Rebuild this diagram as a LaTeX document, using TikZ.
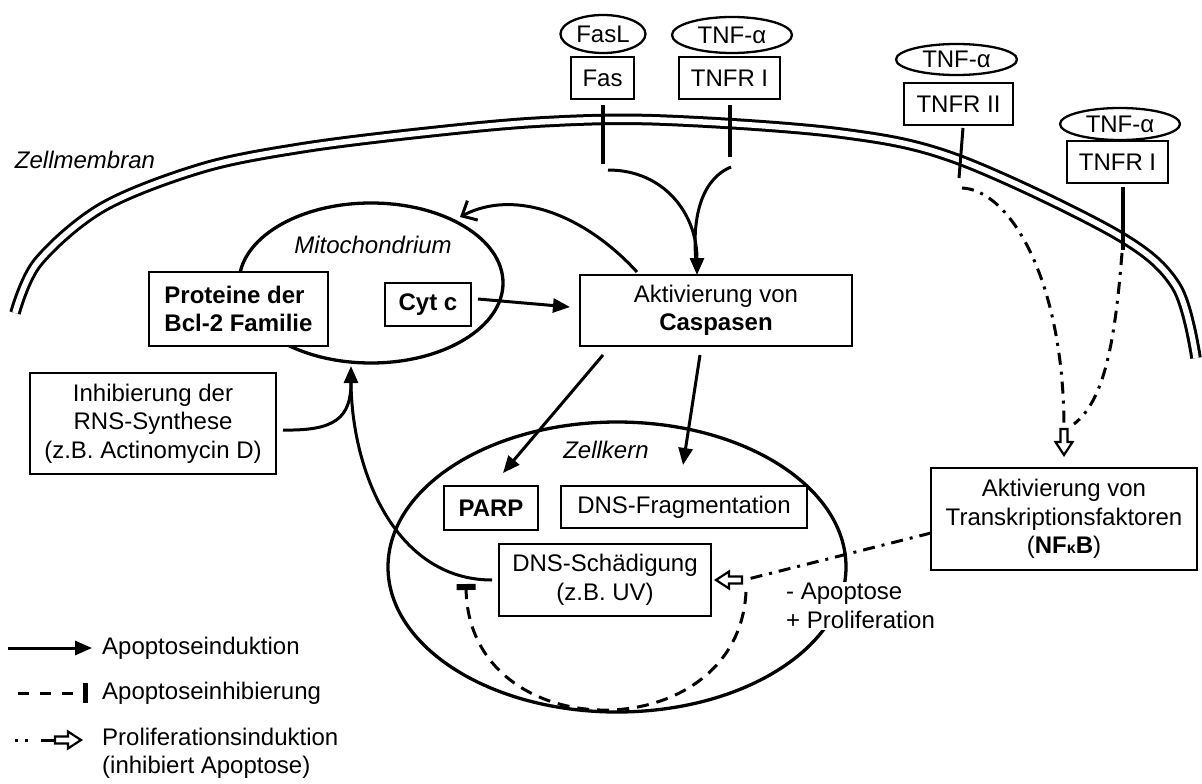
\documentclass[tikz,border=0pt]{standalone}
\usepackage{fontspec}
\setmainfont{Liberation Sans}
\usetikzlibrary{arrows.meta,shapes.geometric}
\tikzset{harrow/.pic={\draw[line width=2.2pt, fill=white, line join=miter] (0,-3.5)--(13,-3.5)--(13,-8.5)--(26,0)--(13,8.5)--(13,3.5)--(0,3.5)--cycle;}}
\begin{document}
\begin{tikzpicture}[x=1pt,y=-1pt,
  every node/.style={font=\fontsize{24}{28.5}\selectfont, inner sep=0pt},
  box/.style={draw, line width=2.3pt, fill=white, align=center},
  lig/.style={draw, ellipse, line width=2.3pt, fill=white},
  org/.style={draw, ellipse, line width=3.3pt},
  stem/.style={line width=4.5pt},
  thinstem/.style={line width=3pt},
  conn/.style={line width=3pt},
  arr/.style={line width=3pt, -{Triangle[length=17pt,width=14pt]}},
  dashdot/.style={line width=3pt, dash pattern=on 12pt off 7pt on 3pt off 7pt},
  inhib/.style={line width=3pt, dash pattern=on 12pt off 8pt, -{Rectangle[length=6pt,width=19pt]}},
  membrane/.style={line width=3pt, double, double distance=5.5pt},
  lab/.style={font=\fontsize{24}{28.5}\selectfont\itshape},
  legtext/.style={anchor=west, align=left},
]
\useasboundingbox (0,0) rectangle (1202,784);

% cell membrane
\draw[membrane] plot[smooth, tension=0.55] coordinates {(15,313) (38,262) (103,207) (202,168) (301,148) (420,133) (540,122) (660,120) (840,133) (957,159) (1116,234) (1176,286) (1196,358)};
\node[lab] (zm) at (85,160) {Zellmembran};

% organelles
\node[org, minimum width=264, minimum height=160] (mito) at (371,283) {};
\node[lab] (mitolab) at (373,245) {Mitochondrium};
\node[org, minimum width=458, minimum height=290] (kern) at (617,567) {};
\node[lab] (kernlab) at (606,450) {Zellkern};

% ligands and receptors
\node[lig, minimum width=85, minimum height=38] (fasl) at (603,34) {FasL};
\node[lig, minimum width=120, minimum height=36] (tnfa1) at (732,35) {TNF-α};
\node[box, minimum width=63, minimum height=42] (fas) at (602.5,78) {Fas};
\node[box, minimum width=101, minimum height=42] (tnfr1) at (729.5,78) {TNFR I};
\node[lig, minimum width=121, minimum height=31] (tnfa2) at (956.5,59.5) {TNF-α};
\node[box, minimum width=109, minimum height=42] (tnfr2) at (958.5,104) {TNFR II};
\node[lig, minimum width=120, minimum height=32] (tnfa3) at (1120,124) {TNF-α};
\node[box, minimum width=101, minimum height=42] (tnfr1b) at (1117.5,162) {TNFR I};

% stems
\coordinate (s1a) at (603,105); \coordinate (s1b) at (603,164);
\coordinate (s2a) at (730,105); \coordinate (s2b) at (730,157);
\coordinate (s3a) at (963,128); \coordinate (s3b) at (959,178);
\coordinate (s4a) at (1123,187); \coordinate (s4b) at (1123,250);
\draw[stem] (s1a) -- (s1b);
\draw[stem] (s2a) -- (s2b);
\draw[thinstem] (s3a) -- (s3b);
\draw[stem] (s4a) -- (s4b);

% boxes
\node[box, minimum width=179, minimum height=74, align=left] (bcl) at (238.5,309) {\textbf{Proteine der}\\\textbf{Bcl-2 Familie}};
\node[box, minimum width=86, minimum height=43] (cytc) at (428,304.5) {\textbf{Cyt c}};
\node[box, minimum width=272, minimum height=71] (casp) at (716,310.5) {Aktivierung von\\\textbf{Caspasen}};
\node[box, minimum width=246, minimum height=101] (inh) at (153,423.5) {Inhibierung der\\RNS-Synthese\\(z.B. Actinomycin D)};
\node[box, minimum width=94, minimum height=44] (parp) at (491,508) {\textbf{PARP}};
\node[box, minimum width=246, minimum height=42] (frag) at (684,507) {DNS-Fragmentation};
\node[box, minimum width=212, minimum height=72] (dns) at (605,580) {DNS-Schädigung\\(z.B. UV)};
\node[box, minimum width=266, minimum height=102] (tf) at (1064,519) {Aktivierung von\\Transkriptionsfaktoren\\(\textbf{NF}{\fontsize{16}{16}\selectfont\textbf{κ}}\textbf{B})};
\node[fill=white, align=left, anchor=west, inner sep=1pt] (apo) at (785,606) {- Apoptose\\+ Proliferation};

% receptor signalling to caspases
\coordinate (f1) at (608,170);
\coordinate (f2) at (731,167);
\coordinate (cin) at (697,275);
\draw[arr] (f1) .. controls (665,170) and (697,215) .. (cin);
\draw[conn] (f2) .. controls (700,180) and (692,220) .. (696,262);

% caspases -> mitochondrium
\coordinate (c2m) at (637,272);
\coordinate (mtop) at (460,217);
\draw[conn, -{Straight Barb[length=12pt,width=22pt]}] (c2m) .. controls (585,215) and (515,188) .. (mtop);

% cyt c -> caspases
\coordinate (cy1) at (478,299);
\coordinate (cy2) at (570,307);
\draw[arr] (cy1) -- (cy2);

% caspases -> PARP, DNS-Fragmentation
\coordinate (p1) at (603,355); \coordinate (p2) at (503,473);
\coordinate (q1) at (700,355); \coordinate (q2) at (683,465);
\draw[arr] (p1) -- (p2);
\draw[arr] (q1) -- (q2);

% into mitochondrium from below
\coordinate (mbot) at (351,366);
\coordinate (i1) at (283,430);
\coordinate (d1) at (492,580);
\draw[arr] (i1) .. controls (335,431) and (351,418) .. (mbot);
\draw[conn] (d1) .. controls (395,580) and (351,470) .. (351,380);

% inhibition dashed curve
\coordinate (h1) at (746,592);
\coordinate (h2) at (466,584);
\draw[inhib] (h1) .. controls (738,750) and (468,750) .. (h2);

% proliferation signalling
\coordinate (t2s) at (962,188);
\coordinate (t2e) at (1064,429);
\draw[dashdot] (t2s) .. controls (1010,190) and (1064,280) .. (t2e);
\pic[rotate=-90] at (t2e) {harrow};
\coordinate (t4s) at (1122,253);
\coordinate (t4e) at (1074,424);
\draw[dashdot] (t4s) .. controls (1115,340) and (1105,400) .. (t4e);
\coordinate (tfo) at (931,533);
\coordinate (dnsin) at (742,580);
\draw[dashdot] (tfo) -- (744,580);
\pic[rotate=180] at (dnsin) {harrow};

% legend
\coordinate (l1a) at (8,648); \coordinate (l1b) at (92,648);
\draw[arr] (l1a) -- (l1b);
\node[legtext] (lt1) at (102,648) {Apoptoseinduktion};
\coordinate (l2a) at (18,693); \coordinate (l2b) at (88,693);
\draw[inhib, dash pattern=on 11pt off 11pt, -{Rectangle[length=5pt,width=20pt]}] (l2a) -- (l2b);
\node[legtext] (lt2) at (102,693) {Apoptoseinhibierung};
\coordinate (l3a) at (15,740); \coordinate (l3b) at (55,740);
\draw[line width=3pt, dash pattern=on 3pt off 7pt on 3pt off 13pt on 20pt] (l3a) -- (l3b);
\pic at (l3b) {harrow};
\node[legtext] (lt3) at (102,753.5) {Proliferationsinduktion\\(inhibiert Apoptose)};
\end{tikzpicture}
\end{document}
